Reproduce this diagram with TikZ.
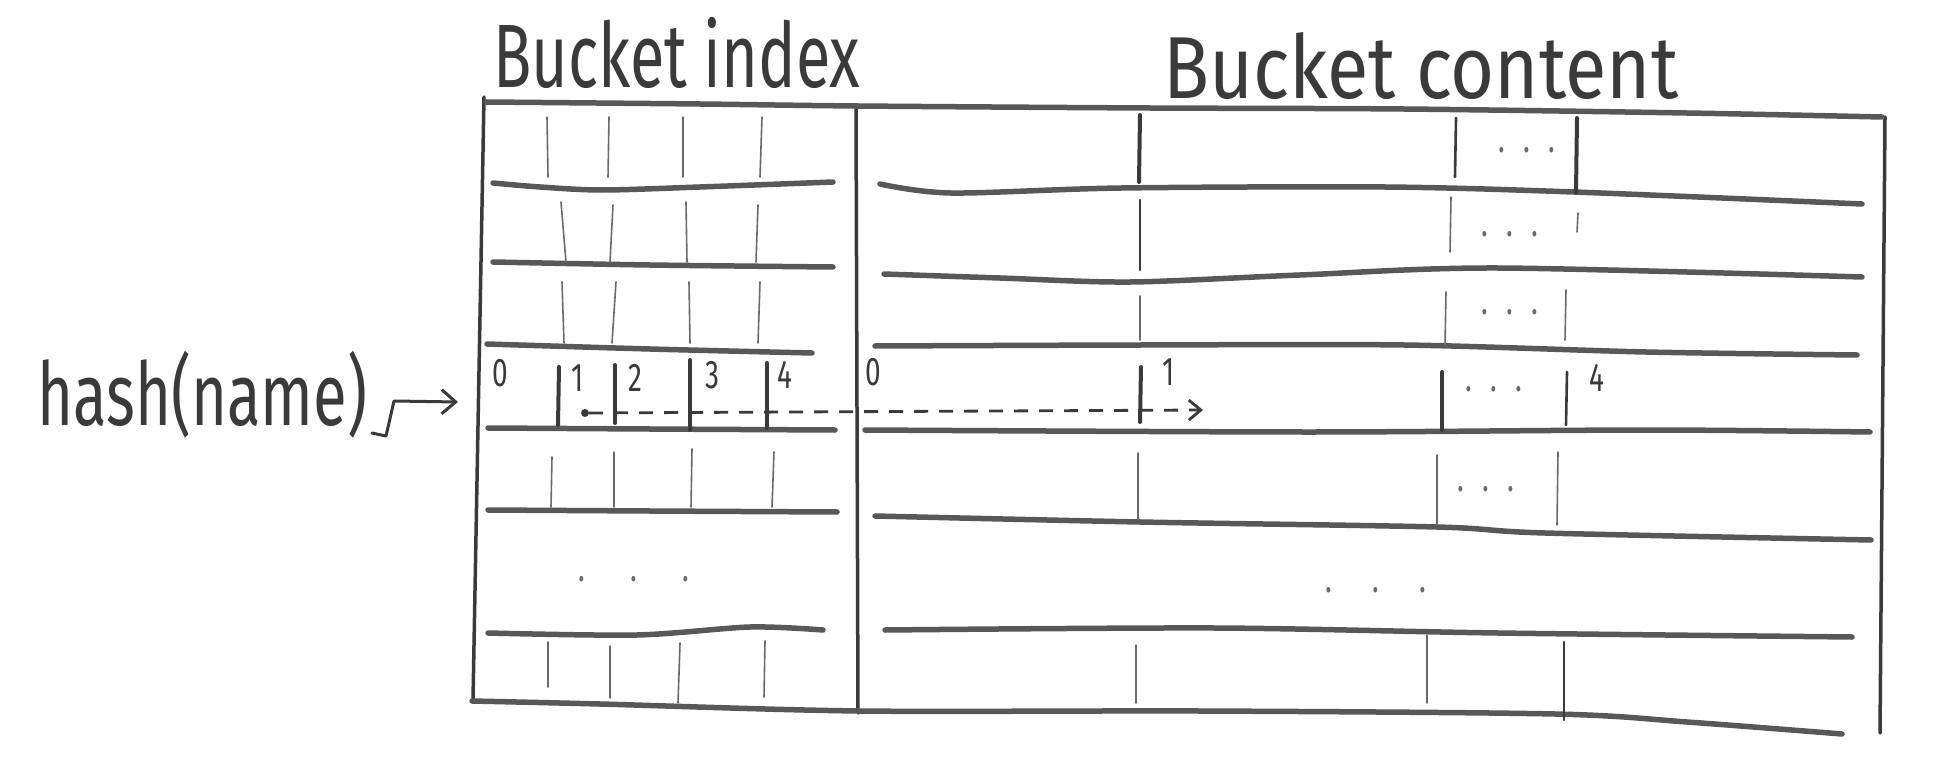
\documentclass[tikz,border=0pt]{standalone}
\usepackage{fontspec}
\setmainfont{Fira Sans}
\newfontfamily\handfont[FakeStretch=0.7]{Fira Sans}
\newfontfamily\handwidefont[FakeStretch=0.86]{Fira Sans}
\usetikzlibrary{arrows.meta}
\definecolor{pencil}{HTML}{3A3A3A}
\definecolor{pencilmid}{HTML}{585858}
\definecolor{pencillight}{HTML}{6A6A6A}
\begin{document}
\begin{tikzpicture}[x=1pt,y=-1pt,
  hline/.style={draw=pencilmid,line width=5.5pt,line cap=round,line join=round},
  border/.style={draw=pencil,line width=3.5pt,line cap=round},
  thinline/.style={draw=pencillight,line width=1.6pt,line cap=round},
  midline/.style={draw=pencil,line width=2.6pt,line cap=round},
  boldline/.style={draw=pencil,line width=4pt,line cap=round},
  title/.style={font=\handfont\fontsize{90}{100}\selectfont,text=pencil,inner sep=0pt,anchor=base west},
  digit/.style={font=\handfont\fontsize{40}{42}\selectfont,text=pencil,inner sep=0pt},
  ell/.style={font=\handfont\fontsize{40}{40}\selectfont,text=pencillight,inner sep=0pt},
  dotnode/.style={circle,fill=pencil,inner sep=0pt,minimum size=8pt},
  pen/.style={draw=pencil,line width=3pt,line cap=round,line join=round},
  dasharrow/.style={draw=pencil,line width=2.8pt,dash pattern=on 14pt off 11pt,
    -{Straight Barb[length=12pt,width=20pt,line width=2.8pt]}}
]
\useasboundingbox (0,0) rectangle (1944,765);

% titles
\node[title] (tindex) at (493,88) {Bucket index};
\node[title,font=\handwidefont\fontsize{88}{100}\selectfont] (tcontent) at (1163,99) {Bucket content};

% outer frame and column divider
\draw[border] (484,97) -- (473,700);
\draw[border] (856,107) -- (858,713);
\draw[border] (1885,117) -- (1880,733);

% top and bottom lines
\draw[hline] plot[smooth] coordinates {(486,102) (700,104) (858,106) (1150,108) (1404,109) (1687,113) (1882,117)};
\draw[hline] plot[smooth] coordinates {(472,701) (600,704) (860,711) (1200,711) (1555,714) (1687,722) (1842,734)};

% bucket index rows
\draw[hline] plot[smooth] coordinates {(493,183) (540,187) (602,190) (700,187) (833,182)};
\draw[hline] plot[smooth] coordinates {(493,262) (650,265) (833,267)};
\draw[hline] plot[smooth] coordinates {(487,344) (650,349) (812,353)};
\draw[hline] plot[smooth] coordinates {(488,428) (650,429) (835,430)};
\draw[hline] plot[smooth] coordinates {(488,510) (650,511) (837,512)};
\draw[hline] plot[smooth] coordinates {(488,633) (637,635) (750,627) (823,630)};

% bucket content rows
\draw[hline] plot[smooth] coordinates {(880,184) (951,193) (1121,188) (1385,187) (1574,192) (1862,204)};
\draw[hline] plot[smooth] coordinates {(884,274) (1000,278) (1130,282) (1300,275) (1498,268) (1862,277)};
\draw[hline] plot[smooth] coordinates {(875,346) (1140,345) (1404,345) (1646,352) (1857,355)};
\draw[hline] plot[smooth] coordinates {(865,430) (1309,432) (1646,430) (1870,432)};
\draw[hline] plot[smooth] coordinates {(875,516) (1140,522) (1437,527) (1545,533) (1871,540)};
\draw[hline] plot[smooth] coordinates {(885,630) (1215,628) (1498,633) (1852,637)};

% index dividers (thin)
\foreach \a/\b/\c/\d in {
  547/117/548/177, 609/117/608/177, 683/117/683/177, 762/117/760/177,
  561/202/566/262, 613/205/610/262, 686/202/687/262, 758/205/756/262,
  562/282/564/343, 616/282/612/343, 689/282/690/343, 760/282/758/343,
  552/457/551/507, 614/452/614/507, 692/449/691/507, 774/452/772/507,
  548/642/548/687, 610/646/610/698, 680/643/678/703, 765/641/764/697}
  \draw[thinline] (\a,\b) -- (\c,\d);

% index dividers of the selected row (bold)
\foreach \a/\b/\c/\d in {559/367/558/425, 615/365/615/423, 690/360/690/430, 767/363/767/428}
  \draw[boldline] (\a,\b) -- (\c,\d);

% content dividers
\foreach \a/\b/\c/\d in {
  1451/197/1450/252, 1578/213/1577/232,
  1140/296/1140/340, 1446/292/1445/345, 1566/290/1565/340,
  1138/453/1138/520, 1437/455/1437/525, 1558/452/1557/525,
  1136/645/1136/703, 1427/635/1427/703}
  \draw[thinline] (\a,\b) -- (\c,\d);
\foreach \a/\b/\c/\d in {1456/118/1455/177, 1140/200/1140/270, 1567/372/1566/425, 1564/642/1564/720}
  \draw[midline] (\a,\b) -- (\c,\d);
\foreach \a/\b/\c/\d in {1140/115/1139/182, 1577/118/1576/192, 1141/367/1140/422, 1442/372/1442/430}
  \draw[boldline] (\a,\b) -- (\c,\d);

% ellipses
\node[ell] (e1) at (1527,150) {.\hspace{18pt}.\hspace{18pt}.};
\node[ell] (e2) at (1510,234) {.\hspace{18pt}.\hspace{18pt}.};
\node[ell] (e3) at (1510,312) {.\hspace{18pt}.\hspace{18pt}.};
\node[ell] (e4) at (1494,389) {.\hspace{18pt}.\hspace{18pt}.};
\node[ell] (e5) at (1486,489) {.\hspace{18pt}.\hspace{18pt}.};
\node[ell] (e6) at (634,579) {.\hspace{45pt}.\hspace{45pt}.};
\node[ell] (e7) at (1376,590) {.\hspace{40pt}.\hspace{40pt}.};

% digits of the selected row
\node[digit] (i0) at (500,373) {0};
\node[digit] (i1) at (578,378) {1};
\node[digit] (i2) at (635,378) {2};
\node[digit] (i3) at (712,375) {3};
\node[digit] (i4) at (785,375) {4};
\node[digit] (c0) at (873,372) {0};
\node[digit] (c1) at (1169,372) {1};
\node[digit] (c4) at (1597,378) {4};

% pointer from bucket index to bucket content
\node[dotnode] (src) at (585,413) {};
\coordinate (dst) at (1203,410);
\draw[dasharrow] (src) -- (dst);

% hash(name) with its arrow
\node[font=\handfont\fontsize{88}{90}\selectfont,text=pencil,inner sep=0pt,anchor=base west] (hash) at (37,425) {hash(name)};
\coordinate (sqs) at (372,433);
\coordinate (rowin) at (458,402);
\draw[pen,-{Straight Barb[length=14pt,width=24pt,line width=3pt]}] (sqs) -- ++(14,3) -- (394,401) -- (rowin);
\end{tikzpicture}
\end{document}
